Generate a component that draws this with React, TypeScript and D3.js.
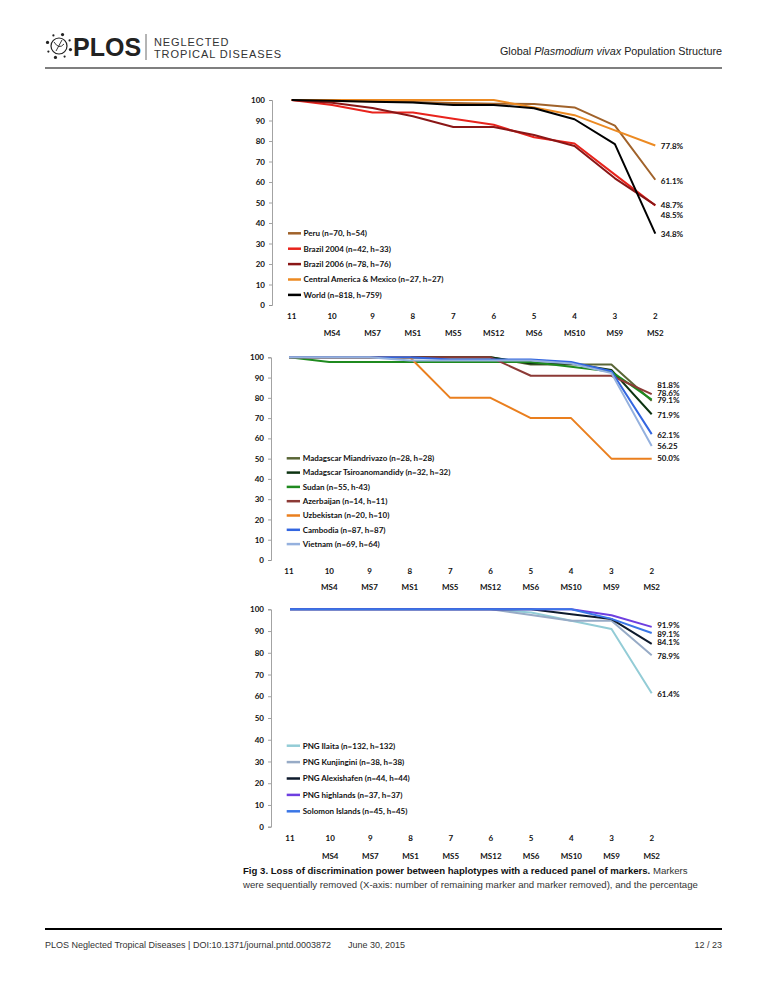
import * as React from "react"
import * as d3 from "d3"

// number of markers remaining, and the marker removed at each step
const remaining = [11, 10, 9, 8, 7, 6, 5, 4, 3, 2]
const removedMarker = ["", "MS4", "MS7", "MS1", "MS5", "MS12", "MS6", "MS10", "MS9", "MS2"]
const yTicks = [0, 10, 20, 30, 40, 50, 60, 70, 80, 90, 100]

// panel A: America + World
const peru = [100, 99.5, 99.3, 99, 98.5, 98.2, 98, 96.4, 87.5, 61.1]
const brazil2004 = [100, 97.6, 93.9, 93.9, 90.9, 87.9, 81.8, 78.8, 63.6, 48.5]
const brazil2006 = [100, 98.7, 96.1, 92.1, 86.8, 86.8, 82.9, 77.6, 61.8, 48.7]
const centralAmerica = [100, 100, 100, 100, 100, 100, 96.3, 92.6, 85.2, 77.8]
const world = [100, 99.6, 99.2, 98.8, 97.6, 97.6, 96.0, 90.6, 78.5, 34.8]

// panel B: Africa + Asia
const miandrivazo = [100, 100, 100, 100, 100, 100, 96.4, 96.4, 96.4, 78.6]
const tsiroanomandidy = [100, 100, 100, 100, 100, 100, 96.9, 96.9, 93.8, 71.9]
const sudan = [100, 97.7, 97.7, 97.7, 97.7, 97.7, 97.7, 95.3, 93.0, 79.1]
const azerbaijan = [100, 100, 100, 100, 100, 100, 90.9, 90.9, 90.9, 81.8]
const uzbekistan = [100, 100, 100, 100, 80, 80, 70, 70, 50, 50]
const cambodia = [100, 100, 100, 100, 98.9, 98.9, 98.9, 97.7, 93.1, 62.1]
const vietnam = [100, 100, 100, 98.4, 98.4, 98.4, 98.4, 96.9, 92.2, 56.25]

// panel C: Oceania
const ilaita = [100, 100, 100, 100, 100, 100, 98.5, 94.7, 90.9, 61.4]
const kunjingini = [100, 100, 100, 100, 100, 100, 97.4, 94.7, 94.7, 78.9]
const alexishafen = [100, 100, 100, 100, 100, 100, 100, 97.7, 95.5, 84.1]
const highlands = [100, 100, 100, 100, 100, 100, 100, 100, 97.3, 91.9]
const solomon = [100, 100, 100, 100, 100, 100, 100, 100, 95.6, 89.1]

interface Series {
  name: string
  values: number[]
  color: string
  label: string
  nudge: number
}

interface Panel {
  top: number
  bottom: number
  x0: number
  x1: number
  axisX: number
  numY: number
  msY: number
  legend: { x1: number; x2: number; tx: number; y0: number; dy: number }
  series: Series[]
}

const panels: Panel[] = [
  {
    top: 100,
    bottom: 305,
    x0: 291.7,
    x1: 655.3,
    axisX: 272,
    numY: 316,
    msY: 332.7,
    legend: { x1: 288, x2: 301, tx: 303.5, y0: 233.3, dy: 15.4 },
    series: [
      { name: "Peru (n=70, h=54)", values: peru, color: "#a0622a", label: "61.1%", nudge: 1 },
      { name: "Brazil 2004 (n=42, h=33)", values: brazil2004, color: "#e8231c", label: "48.5%", nudge: 9.5 },
      { name: "Brazil 2006 (n=78, h=76)", values: brazil2006, color: "#8a1616", label: "48.7%", nudge: 0.5 },
      { name: "Central America & Mexico (n=27, h=27)", values: centralAmerica, color: "#ec8a22", label: "77.8%", nudge: 1 },
      { name: "World (n=818, h=759)", values: world, color: "#000000", label: "34.8%", nudge: 0.5 },
    ],
  },
  {
    top: 357.3,
    bottom: 560,
    x0: 289,
    x1: 651.7,
    axisX: 271,
    numY: 571,
    msY: 586.7,
    legend: { x1: 286.7, x2: 300, tx: 302.7, y0: 458.3, dy: 14.3 },
    series: [
      { name: "Madagscar Miandrivazo (n=28, h=28)", values: miandrivazo, color: "#5a6636", label: "78.6%", nudge: -7.4 },
      { name: "Madagscar Tsiroanomandidy (n=32, h=32)", values: tsiroanomandidy, color: "#0d3312", label: "71.9%", nudge: 0.7 },
      { name: "Sudan (n=55, h-43)", values: sudan, color: "#1f8a1f", label: "79.1%", nudge: 1 },
      { name: "Azerbaijan (n=14, h=11)", values: azerbaijan, color: "#8c3a36", label: "81.8%", nudge: -8.5 },
      { name: "Uzbekistan (n=20, h=10)", values: uzbekistan, color: "#ea7f1e", label: "50.0%", nudge: 0 },
      { name: "Cambodia (n=87, h=87)", values: cambodia, color: "#3366e0", label: "62.1%", nudge: 0.6 },
      { name: "Vietnam (n=69, h=64)", values: vietnam, color: "#95b1de", label: "56.25", nudge: 0.7 },
    ],
  },
  {
    top: 609.3,
    bottom: 826.7,
    x0: 290,
    x1: 651.7,
    axisX: 271,
    numY: 838.3,
    msY: 855.7,
    legend: { x1: 286.7, x2: 300, tx: 302.7, y0: 745.7, dy: 16.4 },
    series: [
      { name: "PNG Ilaita (n=132, h=132)", values: ilaita, color: "#93ccd6", label: "61.4%", nudge: 1 },
      { name: "PNG Kunjingini (n=38, h=38)", values: kunjingini, color: "#97abc6", label: "78.9%", nudge: 1 },
      { name: "PNG Alexishafen (n=44, h=44)", values: alexishafen, color: "#0e1a2c", label: "84.1%", nudge: -1.5 },
      { name: "PNG highlands (n=37, h=37)", values: highlands, color: "#6e3fe0", label: "91.9%", nudge: -2 },
      { name: "Solomon Islands (n=45, h=45)", values: solomon, color: "#3a76e6", label: "89.1%", nudge: 1 },
    ],
  },
]

const chartFont = "Lato, 'Open Sans', sans-serif"
const pageFont = "'Liberation Sans', Arial, sans-serif"

function drawPanel(g: d3.Selection<SVGGElement, unknown, null, undefined>, p: Panel) {
  const x = d3.scalePoint<number>().domain(remaining).range([p.x0, p.x1])
  const y = d3.scaleLinear().domain([0, 100]).range([p.bottom, p.top])

  // y axis
  const axis = g
    .append("g")
    .attr("transform", `translate(${p.axisX},0)`)
    .call(d3.axisLeft(y).tickValues(yTicks).tickSize(3).tickPadding(4))
  axis.select(".domain").attr("stroke", "#8c8c8c").attr("stroke-width", 0.8)
  axis.selectAll(".tick line").attr("stroke", "#8c8c8c").attr("stroke-width", 0.8)
  axis
    .selectAll(".tick text")
    .attr("font-family", chartFont)
    .attr("font-weight", "bold")
    .attr("font-size", "8px")
    .attr("fill", "#111")

  // x labels
  g.selectAll(".num")
    .data(remaining)
    .join("text")
    .attr("class", "num")
    .attr("x", (d) => x(d)!)
    .attr("y", p.numY)
    .attr("dy", "0.35em")
    .attr("text-anchor", "middle")
    .attr("font-family", chartFont)
    .attr("font-weight", "bold")
    .attr("font-size", "8px")
    .attr("fill", "#111")
    .text((d) => d)

  g.selectAll(".ms")
    .data(remaining.map((d, i) => ({ d, m: removedMarker[i] })).filter((e) => e.m))
    .join("text")
    .attr("class", "ms")
    .attr("x", (e) => x(e.d)!)
    .attr("y", p.msY)
    .attr("dy", "0.35em")
    .attr("text-anchor", "middle")
    .attr("font-family", chartFont)
    .attr("font-weight", "bold")
    .attr("font-size", "8px")
    .attr("fill", "#111")
    .text((e) => e.m)

  const line = d3
    .line<number>()
    .x((_d, i) => x(remaining[i])!)
    .y((d) => y(d))

  g.selectAll(".series")
    .data(p.series)
    .join("path")
    .attr("class", "series")
    .attr("d", (s) => line(s.values))
    .attr("fill", "none")
    .attr("stroke", (s) => s.color)
    .attr("stroke-width", 2)
    .attr("stroke-linejoin", "round")

  // end labels
  g.selectAll(".endlabel")
    .data(p.series)
    .join("text")
    .attr("class", "endlabel")
    .attr("x", p.x1 + 5.5)
    .attr("y", (s) => y(s.values[s.values.length - 1]) + s.nudge)
    .attr("dy", "0.35em")
    .attr("font-family", chartFont)
    .attr("font-weight", "bold")
    .attr("font-size", "8px")
    .attr("fill", "#111")
    .text((s) => s.label)

  // legend
  const lg = g
    .selectAll(".leg")
    .data(p.series)
    .join("g")
    .attr("class", "leg")
    .attr("transform", (_s, i) => `translate(0,${p.legend.y0 + i * p.legend.dy})`)
  lg.append("line")
    .attr("x1", p.legend.x1)
    .attr("x2", p.legend.x2)
    .attr("stroke", (s) => s.color)
    .attr("stroke-width", 2.5)
  lg.append("text")
    .attr("x", p.legend.tx)
    .attr("dy", "0.35em")
    .attr("font-family", chartFont)
    .attr("font-weight", "bold")
    .attr("font-size", "8px")
    .attr("fill", "#111")
    .text((s) => s.name)
}

function drawPage(svgEl: SVGSVGElement) {
  const svg = d3.select(svgEl)
  svg.selectAll("*").remove()

  // header
  const head = svg.append("g")
  head
    .append("circle")
    .attr("cx", 59)
    .attr("cy", 46)
    .attr("r", 8)
    .attr("fill", "none")
    .attr("stroke", "#222")
    .attr("stroke-width", 1.2)
  head
    .append("path")
    .attr("d", "M54,42 Q59,50 64,44 M56,51 L62,40")
    .attr("fill", "none")
    .attr("stroke", "#222")
    .attr("stroke-width", 0.9)
  const dots = d3.range(8).map((i) => (i * Math.PI * 2) / 8 + 0.3)
  head
    .selectAll(".dot")
    .data(dots)
    .join("circle")
    .attr("class", "dot")
    .attr("cx", (a) => 59 + Math.cos(a) * 12)
    .attr("cy", (a) => 46 + Math.sin(a) * 12)
    .attr("r", (_a, i) => (i % 2 ? 1.1 : 1.6))
    .attr("fill", "#222")
  head
    .append("text")
    .attr("x", 73)
    .attr("y", 56)
    .attr("font-family", pageFont)
    .attr("font-weight", "bold")
    .attr("font-size", "25px")
    .attr("fill", "#222")
    .text("PLOS")
  head
    .append("line")
    .attr("x1", 146)
    .attr("x2", 146)
    .attr("y1", 34)
    .attr("y2", 60)
    .attr("stroke", "#444")
    .attr("stroke-width", 0.8)
  head
    .append("text")
    .attr("x", 154)
    .attr("y", 46)
    .attr("font-family", pageFont)
    .attr("font-size", "11px")
    .attr("letter-spacing", "0.9px")
    .attr("fill", "#333")
    .text("NEGLECTED")
  head
    .append("text")
    .attr("x", 154)
    .attr("y", 58)
    .attr("font-family", pageFont)
    .attr("font-size", "11px")
    .attr("letter-spacing", "0.9px")
    .attr("fill", "#333")
    .text("TROPICAL DISEASES")
  const title = head
    .append("text")
    .attr("x", 722)
    .attr("y", 55)
    .attr("text-anchor", "end")
    .attr("font-family", pageFont)
    .attr("font-size", "10.8px")
    .attr("fill", "#222")
  title.append("tspan").text("Global ")
  title.append("tspan").attr("font-style", "italic").text("Plasmodium vivax")
  title.append("tspan").text(" Population Structure")
  head
    .append("line")
    .attr("x1", 45)
    .attr("x2", 722)
    .attr("y1", 68)
    .attr("y2", 68)
    .attr("stroke", "#000")
    .attr("stroke-width", 1.2)

  panels.forEach((p) => drawPanel(svg.append("g"), p))

  // caption
  const cap1 = svg
    .append("text")
    .attr("x", 243)
    .attr("y", 874)
    .attr("font-family", pageFont)
    .attr("font-size", "9.6px")
    .attr("fill", "#111")
  cap1
    .append("tspan")
    .attr("font-weight", "bold")
    .text("Fig 3. Loss of discrimination power between haplotypes with a reduced panel of markers.")
  cap1.append("tspan").attr("fill", "#333").text(" Markers")
  svg
    .append("text")
    .attr("x", 243)
    .attr("y", 888)
    .attr("font-family", pageFont)
    .attr("font-size", "9.6px")
    .attr("fill", "#333")
    .text(
      "were sequentially removed (X-axis: number of remaining marker and marker removed), and the percentage"
    )

  // footer
  svg
    .append("line")
    .attr("x1", 45)
    .attr("x2", 722)
    .attr("y1", 929)
    .attr("y2", 929)
    .attr("stroke", "#000")
    .attr("stroke-width", 2)
  svg
    .append("text")
    .attr("x", 45)
    .attr("y", 948)
    .attr("font-family", pageFont)
    .attr("font-size", "9px")
    .attr("fill", "#333")
    .text("PLOS Neglected Tropical Diseases | DOI:10.1371/journal.pntd.0003872")
  svg
    .append("text")
    .attr("x", 348)
    .attr("y", 948)
    .attr("font-family", pageFont)
    .attr("font-size", "9px")
    .attr("fill", "#333")
    .text("June 30, 2015")
  svg
    .append("text")
    .attr("x", 722)
    .attr("y", 948)
    .attr("text-anchor", "end")
    .attr("font-family", pageFont)
    .attr("font-size", "9px")
    .attr("fill", "#333")
    .text("12 / 23")
}

export default function App(): React.JSX.Element {
  const ref = React.useRef<SVGSVGElement>(null)

  React.useEffect(() => {
    if (ref.current) drawPage(ref.current)
  }, [])

  return (
    <svg
      ref={ref}
      width={765}
      height={990}
      style={{ position: "absolute", left: 0, top: 0, background: "#fff" }}
    />
  )
}
